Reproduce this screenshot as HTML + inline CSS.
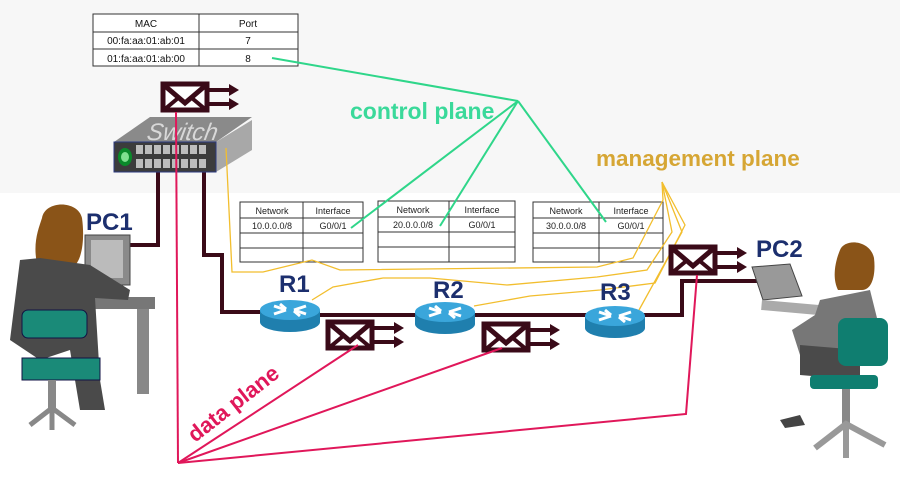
<!DOCTYPE html>
<html><head><meta charset="utf-8"><style>
html,body{margin:0;padding:0;background:#fff}
svg{display:block}
text{font-family:"Liberation Sans",sans-serif}
</style></head><body>
<svg width="900" height="479" viewBox="0 0 900 479" xmlns="http://www.w3.org/2000/svg">
<defs>
<g id="env">
<rect x="2" y="2" width="44" height="26" fill="#fff" stroke="#3a0a18" stroke-width="5"/>
<polyline points="4,4 24,21 44,4" fill="none" stroke="#3a0a18" stroke-width="5"/>
<line x1="4" y1="27" x2="16" y2="17" stroke="#3a0a18" stroke-width="4"/>
<line x1="32" y1="17" x2="44" y2="27" stroke="#3a0a18" stroke-width="4"/>
<line x1="48" y1="8" x2="70" y2="8" stroke="#3a0a18" stroke-width="4"/>
<line x1="48" y1="22" x2="70" y2="22" stroke="#3a0a18" stroke-width="4"/>
<polygon points="68,2 78,8 68,14" fill="#3a0a18"/>
<polygon points="68,16 78,22 68,28" fill="#3a0a18"/>
</g>
<g id="router">
<rect x="-30" y="0" width="60" height="12" fill="#1f7fae"/>
<ellipse cx="0" cy="12" rx="30" ry="10" fill="#1f7fae"/>
<ellipse cx="0" cy="0" rx="30" ry="10" fill="#3aa6db"/>
<path d="M-16,-4 L-4,0 M-16,4 L-4,0 M16,-4 L4,0 M16,4 L4,0 M-10,-6 L-4,-1 M10,6 L4,1" stroke="#fff" stroke-width="3"/>
</g>
</defs>
<rect x="0" y="0" width="900" height="193" fill="#f7f7f7"/>

<g font-size="10" text-anchor="middle" fill="#111">
<rect x="93" y="14" width="205" height="52" fill="#fff" stroke="#333"/>
<line x1="93" y1="32" x2="298" y2="32" stroke="#333"/>
<line x1="93" y1="49" x2="298" y2="49" stroke="#333"/>
<line x1="199" y1="14" x2="199" y2="66" stroke="#333"/>
<text x="146" y="27">MAC</text><text x="248" y="27">Port</text>
<text x="146" y="44">00:fa:aa:01:ab:01</text><text x="248" y="44">7</text>
<text x="146" y="62">01:fa:aa:01:ab:00</text><text x="248" y="62">8</text>
</g>

<g font-size="9" text-anchor="middle" fill="#222" stroke-width="1">
<g stroke="#333" fill="#fff">
<rect x="240" y="202" width="123" height="60"/><line x1="240" y1="218" x2="363" y2="218"/><line x1="240" y1="233" x2="363" y2="233"/><line x1="240" y1="248" x2="363" y2="248"/><line x1="303" y1="202" x2="303" y2="262"/>
<rect x="378" y="201" width="137" height="61"/><line x1="378" y1="217" x2="515" y2="217"/><line x1="378" y1="232" x2="515" y2="232"/><line x1="378" y1="247" x2="515" y2="247"/><line x1="449" y1="201" x2="449" y2="262"/>
<rect x="533" y="202" width="130" height="60"/><line x1="533" y1="218" x2="663" y2="218"/><line x1="533" y1="233" x2="663" y2="233"/><line x1="533" y1="248" x2="663" y2="248"/><line x1="599" y1="202" x2="599" y2="262"/>
</g>
<text x="272" y="214">Network</text><text x="333" y="214">Interface</text>
<text x="272" y="229">10.0.0.0/8</text><text x="333" y="229">G0/0/1</text>
<text x="413" y="213">Network</text><text x="482" y="213">Interface</text>
<text x="413" y="228">20.0.0.0/8</text><text x="482" y="228">G0/0/1</text>
<text x="566" y="214">Network</text><text x="631" y="214">Interface</text>
<text x="566" y="229">30.0.0.0/8</text><text x="631" y="229">G0/0/1</text>
</g>

<g fill="none" stroke="#3a0a18" stroke-width="4">
<polyline points="126,245 158,245 158,170"/>
<polyline points="204,170 204,255 222,255 222,312 262,312"/>
<line x1="318" y1="315" x2="418" y2="315"/>
<line x1="472" y1="315" x2="588" y2="315"/>
<polyline points="642,315 682,315 682,281 760,281"/>
</g>

<polygon points="114,142 150,117 252,117 216,142" fill="#8a8a8a"/>
<text x="182" y="140" font-size="24" font-style="italic" fill="#d8d8d8" text-anchor="middle" transform="skewX(-10) translate(24 0)">Switch</text>
<polygon points="216,142 252,120 252,150 216,172" fill="#a8a8a8"/>
<rect x="114" y="142" width="102" height="30" fill="#3c3c3c" stroke="#2b3a80"/>
<ellipse cx="125" cy="157" rx="7" ry="9" fill="#0a8a2a"/><ellipse cx="125" cy="157" rx="4" ry="5" fill="#7fe08f"/>
<g fill="#bdbdbd">
<rect x="136" y="145" width="7" height="9"/><rect x="145" y="145" width="7" height="9"/><rect x="154" y="145" width="7" height="9"/><rect x="163" y="145" width="7" height="9"/><rect x="172" y="145" width="7" height="9"/><rect x="181" y="145" width="7" height="9"/><rect x="190" y="145" width="7" height="9"/><rect x="199" y="145" width="7" height="9"/>
<rect x="136" y="159" width="7" height="9"/><rect x="145" y="159" width="7" height="9"/><rect x="154" y="159" width="7" height="9"/><rect x="163" y="159" width="7" height="9"/><rect x="172" y="159" width="7" height="9"/><rect x="181" y="159" width="7" height="9"/><rect x="190" y="159" width="7" height="9"/><rect x="199" y="159" width="7" height="9"/>
</g>

<g fill="none" stroke="#f2be2e" stroke-width="1.3">
<polyline points="226,148 232,272 263,272 312,260 340,270 597,267 633,258 663,200 662,182"/>
<polyline points="312,300 333,287 383,278 430,278 507,285 597,277 647,270 672,232 662,182"/>
<polyline points="474,306 530,296 600,290 655,283 685,225 662,182"/>
<polyline points="639,310 682,232 662,182"/>
</g>
<text x="596" y="166" font-size="22.5" font-weight="bold" fill="#d6a634">management plane</text>

<g stroke="#2fd68a" stroke-width="2" fill="none">
<line x1="518" y1="101" x2="272" y2="58"/>
<line x1="518" y1="101" x2="351" y2="228"/>
<line x1="518" y1="101" x2="440" y2="226"/>
<line x1="518" y1="101" x2="606" y2="222"/>
</g>
<text x="350" y="119" font-size="23" font-weight="bold" fill="#3ad99a">control plane</text>

<use href="#router" x="290" y="310"/>
<use href="#router" x="445" y="312"/>
<use href="#router" x="615" y="316"/>
<g font-size="24" font-weight="bold" fill="#1c2f6e">
<text x="279" y="292">R1</text><text x="433" y="298">R2</text><text x="600" y="300">R3</text>
<text x="86" y="230">PC1</text><text x="756" y="257">PC2</text>
</g>

<use href="#env" x="161" y="82"/>
<use href="#env" x="326" y="320"/>
<use href="#env" x="482" y="322"/>
<use href="#env" x="669" y="245"/>

<g stroke="#e0175a" stroke-width="2" fill="none">
<line x1="178" y1="463" x2="176" y2="112"/>
<line x1="178" y1="463" x2="358" y2="345"/>
<line x1="178" y1="463" x2="502" y2="348"/>
<polyline points="178,463 686,414 697,275"/>
</g>
<text x="0" y="0" font-size="22" font-weight="bold" fill="#e0175a" transform="translate(195,443) rotate(-38)">data plane</text>

<rect x="85" y="235" width="45" height="50" fill="#8a8a8a" stroke="#444"/>
<rect x="91" y="240" width="32" height="38" fill="#bbb"/>
<rect x="85" y="297" width="70" height="12" fill="#777"/>
<rect x="137" y="309" width="12" height="85" fill="#888"/>
<path d="M42,218 C45,200 78,200 82,218 C85,240 82,262 72,268 L38,268 C32,245 38,230 42,218Z" fill="#8a5418"/>
<path d="M20,260 L40,258 L90,265 L130,290 L128,300 L95,298 L100,380 L105,410 L80,410 L70,350 L40,360 L10,340 Z" fill="#4a4a4a"/>
<rect x="22" y="310" width="65" height="28" rx="6" fill="#1a8a78" stroke="#114"/>
<rect x="22" y="358" width="78" height="22" fill="#1a8a78" stroke="#114"/>
<rect x="48" y="380" width="8" height="30" fill="#888"/>
<path d="M30,425 L52,408 L75,425 M52,408 L52,430" stroke="#888" stroke-width="5" fill="none"/>

<polygon points="752,267 790,264 802,296 763,300" fill="#999" stroke="#444"/>
<rect x="762" y="300" width="60" height="10" fill="#aaa" transform="rotate(5 762 300)"/>
<path d="M840,250 C845,238 870,240 874,258 C876,275 872,290 862,290 L838,290 C832,278 835,262 840,250Z" fill="#8a5418"/>
<path d="M820,300 L870,290 L880,330 L870,355 L800,355 L792,330 L815,315 Z" fill="#777"/>
<path d="M800,345 L860,350 L860,380 L800,375 Z" fill="#4a4a4a"/>
<rect x="838" y="318" width="50" height="48" rx="8" fill="#0f7e70"/>
<rect x="810" y="375" width="68" height="14" rx="4" fill="#0f7e70"/>
<rect x="842" y="389" width="8" height="35" fill="#888"/>
<path d="M815,448 L846,424 L885,445 M846,424 L846,458" stroke="#999" stroke-width="6" fill="none"/>
<path d="M780,420 L800,415 L805,425 L785,428Z" fill="#444"/>
</svg>
</body></html>
